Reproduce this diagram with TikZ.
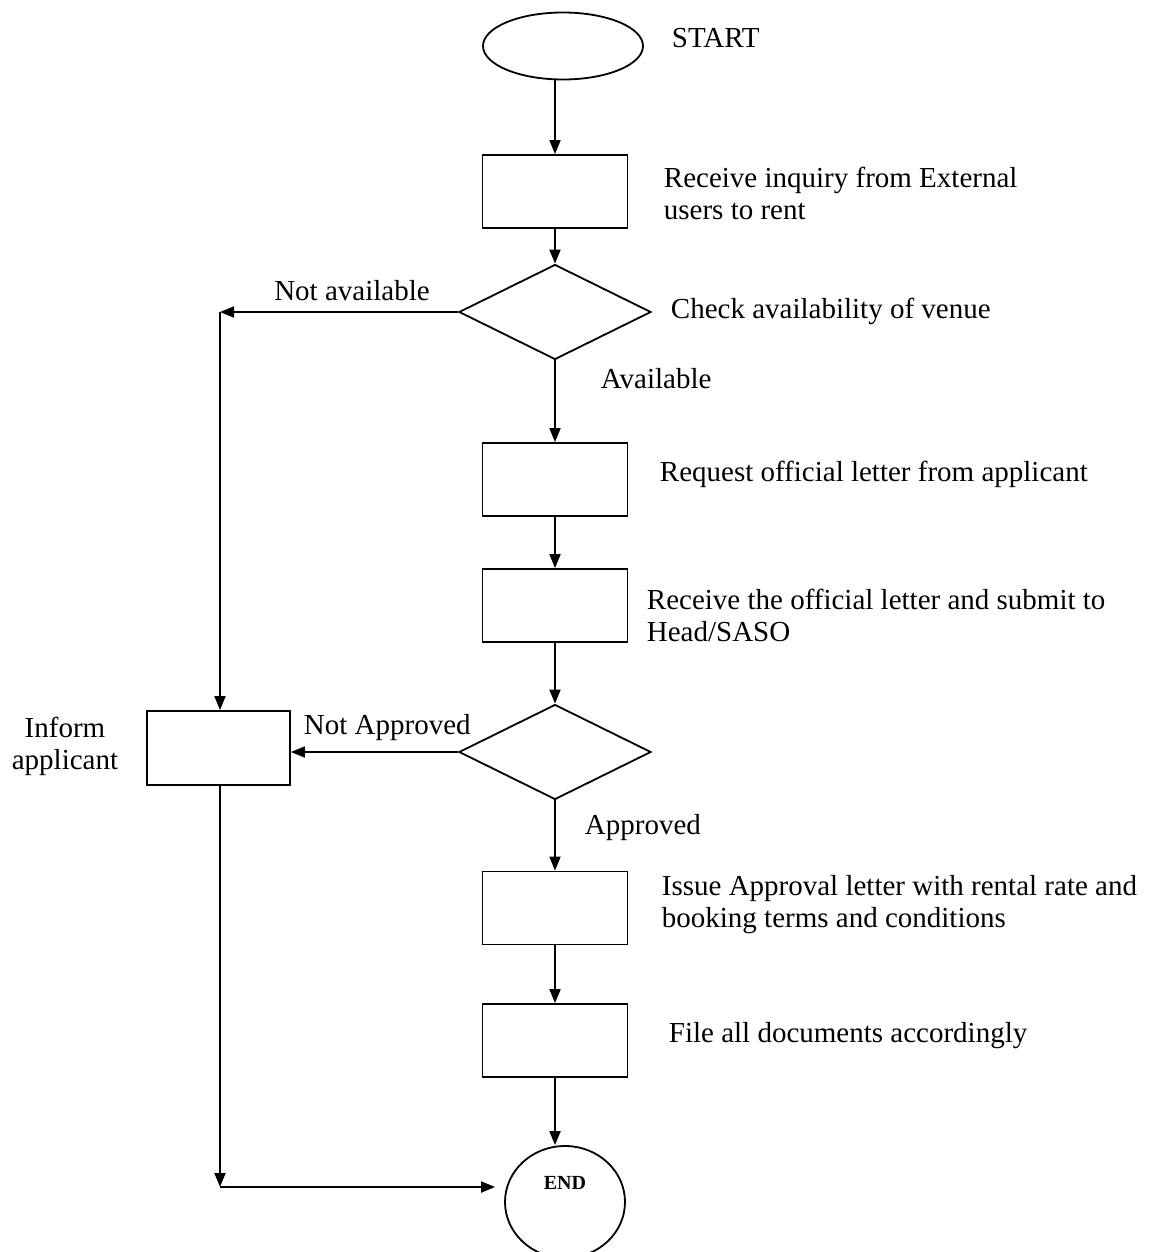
\documentclass[tikz,border=0pt]{standalone}
\usepackage{fontspec}
\setmainfont{Liberation Serif}
\usetikzlibrary{shapes.geometric,arrows.meta}
\begin{document}
\begin{tikzpicture}[x=1pt,y=-1pt,
  line width=1.8pt,
  arr/.style={-{Triangle[length=14pt,width=11pt]}},
  procbox/.style={draw,rectangle,inner sep=0pt,minimum width=145pt,minimum height=73pt},
  decision/.style={draw,diamond,inner sep=0pt,minimum width=192pt,minimum height=95pt},
  lbl/.style={inner sep=0pt,font=\fontsize{29}{32}\selectfont,align=left},
  terminal/.style={draw,ellipse,inner sep=0pt}]
\useasboundingbox (0,0) rectangle (1150,1252);

% nodes
\node[terminal,minimum width=160pt,minimum height=67pt] (start) at (563,46) {};
\node[procbox] (b1) at (555,191.5) {};
\node[decision] (d1) at (555,312) {};
\node[procbox] (b2) at (555,479.5) {};
\node[procbox] (b3) at (555,605.5) {};
\node[decision] (d2) at (555,752) {};
\node[procbox,minimum width=143pt,minimum height=74pt] (inf) at (218.5,748) {};
\node[procbox] (b4) at (555,908) {};
\node[procbox] (b5) at (555,1040.5) {};
\node[terminal,minimum width=120pt,minimum height=112pt] (end) at (565,1202) {};
\node[inner sep=0pt,font=\fontsize{20}{22}\selectfont\bfseries] (endt) at (565,1183) {END};

\coordinate (na) at (220,312);
\coordinate (ba) at (220,1187);

% labels
\node[lbl,anchor=west] (tstart) at (671,38) {START};
\node[lbl,anchor=west] (t1) at (663,193) {Receive inquiry from External\\users to rent};
\node[lbl,anchor=west] (t2) at (670,311) {Check availability of venue};
\node[lbl] (tna) at (352,291) {Not available};
\node[lbl,anchor=west] (tav) at (600,379) {Available};
\node[lbl,anchor=west] (t3) at (659,474) {Request official letter from applicant};
\node[lbl,anchor=west] (t4) at (646,615) {Receive the official letter and submit to\\Head/SASO};
\node[lbl,align=center] (tinf) at (65,746) {Inform\\applicant};
\node[lbl,anchor=west] (tnap) at (303,728) {Not Approved};
\node[lbl,anchor=west] (tap) at (584,828) {Approved};
\node[lbl,anchor=west] (t5) at (661,905) {Issue Approval letter with rental rate and\\booking terms and conditions};
\node[lbl,anchor=west] (t6) at (668,1036) {File all documents accordingly};

% connectors
\draw[arr] (b1.north |- start.south) -- (b1.north);
\draw[arr] (b1.south) -- (d1.north);
\draw[arr] (d1.south) -- (b2.north);
\draw[arr] (b2.south) -- (b3.north);
\draw[arr] (b3.south) -- (d2.north);
\draw[arr] (d2.south) -- (b4.north);
\draw[arr] (b4.south) -- (b5.north);
\draw[arr] (b5.south) -- (b5.south |- end.north);
\draw[arr] (d1.west) -- (na);
\draw[arr] (na) -- (na |- inf.north);
\draw[arr] (d2.west) -- (inf.east |- d2.west);
\draw[arr] (ba |- inf.south) -- (ba);
\draw[arr] (ba) -- ([xshift=-9pt]end.west |- ba);
\end{tikzpicture}
\end{document}
